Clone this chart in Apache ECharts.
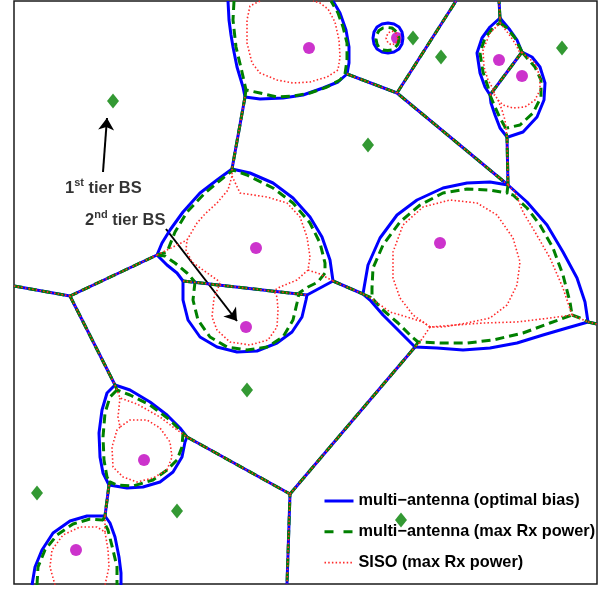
<!DOCTYPE html>
<html>
<head>
<meta charset="utf-8">
<script src="https://cdn.jsdelivr.net/npm/echarts@6/dist/echarts.min.js"></script>
<style>
  html, body { margin: 0; padding: 0; background: #fff; }
  #chart { width: 613px; height: 589px; }
</style>
</head>
<body>
<div id="chart"></div>
<script>
// Base station locations (map units)
const macroBS = [[113,101],[413,38],[441,57],[368,145],[562,48],[247,390],[37,493],[177,511],[401,520]];
const smallBS = [[309,48],[397,38],[499,60],[522,76],[440,243],[256,248],[246,327],[144,460],[76,550]];

// Macro-macro Voronoi edges: identical for every association rule
const sharedEdges = [
  [[245,97],[232,169]],
  [[347,74],[397,93],[508,185]],
  [[397,93],[456,1]],
  [[508,185],[507,137]],
  [[500,18],[499,1]],
  [[522,52],[490,95]],
  [[14,286],[70,296],[157,255]],
  [[70,296],[115,385]],
  [[187,437],[290,494],[287,584]],
  [[290,494],[415,347]],
  [[333,281],[363,294]],
  [[183,281],[307,295]],
  [[109,485],[105,516]],
  [[588,322],[597,324]]
];

// Small-cell boundaries, multi-antenna with optimal bias
const optimalBiasCells = [
  [[228,1],[229,20],[231,35],[233,47],[237,67],[243,87],[245,97],[260,99],[283,98],[303,95],[323,88],[338,82],[347,74],[349,63],[349,47],[346,30],[340,13],[333,1]],
  [[403,38],[402,44],[399,49],[394,52],[388,53],[382,52],[377,49],[374,44],[373,38],[374,32],[377,27],[382,24],[388,23],[394,24],[399,27],[402,32],[403,38]],
  [[500,18],[490,27],[482,38],[477,53],[480,73],[485,87],[490,95]],
  [[500,18],[510,30],[517,40],[522,52]],
  [[522,52],[532,57],[540,67],[545,83],[544,100],[537,117],[523,132],[508,137]],
  [[490,95],[491,103],[495,115],[500,128],[507,137]],
  [[157,255],[162,243],[170,230],[183,212],[200,193],[217,180],[232,169],[250,173],[273,183],[293,198],[310,217],[322,237],[330,260],[333,281]],
  [[157,255],[167,265],[177,273],[183,281]],
  [[307,295],[333,281]],
  [[183,281],[183,300],[188,320],[200,337],[217,347],[237,352],[257,351],[277,343],[292,332],[302,317],[306,300],[307,295]],
  [[508,185],[490,182],[467,183],[443,188],[417,200],[397,215],[380,238],[368,265],[364,288],[363,294],[370,300],[383,315],[400,332],[415,347],[437,348],[463,350],[490,348],[517,343],[543,335],[567,328],[588,322],[585,302],[577,278],[563,252],[547,225],[527,202],[508,185]],
  [[115,385],[130,390],[150,402],[167,415],[180,428],[187,437],[185,442],[182,457],[173,472],[160,482],[143,487],[127,488],[109,485],[103,473],[100,457],[99,433],[102,410],[107,393],[115,385]],
  [[32,585],[35,567],[42,550],[53,533],[70,521],[87,516],[105,516],[110,523],[115,537],[119,557],[121,573],[121,585]]
];

// Small-cell boundaries, multi-antenna with max received power
const maxRxCells = [
  [[234,1],[233,20],[236,47],[242,72],[246,90],[260,93],[277,97],[293,96],[310,93],[327,87],[340,80],[345,74],[347,60],[347,43],[343,27],[338,13],[331,1]],
  [[246,90],[245,97]],
  [[399,39],[398,44],[395,47.5],[392,50],[387.5,50.5],[383,50],[379,47.5],[377,44],[376,39],[377,34],[379,30.5],[383,28],[387.5,27.5],[392,28],[395,30.5],[398,34],[399,39]],
  [[500,18],[500,23],[493,28],[485,38],[480,53],[483,72],[488,87],[490,95]],
  [[500,23],[507,28],[515,38],[521,50],[522,52]],
  [[522,52],[527,58],[535,67],[541,80],[541,97],[533,113],[520,125],[507,128]],
  [[490,95],[495,107],[500,118],[505,127],[507,128],[507,137]],
  [[157,255],[167,252],[175,232],[187,212],[205,193],[223,178],[233,170],[247,175],[273,188],[293,203],[310,223],[320,243],[325,263],[325,273],[318,282],[308,287],[299,293]],
  [[157,255],[165,256],[175,263],[187,273],[195,282]],
  [[195,282],[193,300],[198,320],[210,337],[227,347],[247,350],[267,347],[283,337],[293,320],[297,303],[299,293]],
  [[508,185],[507,193],[490,190],[467,189],[443,193],[420,205],[400,222],[383,245],[373,268],[372,288],[372,298],[383,310],[398,323],[412,337],[418,342],[440,343],[467,343],[493,340],[523,333],[550,323],[572,315],[570,302],[563,275],[553,248],[540,225],[527,208],[513,195],[507,193]],
  [[363,294],[372,298]],
  [[418,342],[415,347]],
  [[572,315],[580,318],[588,322]],
  [[115,385],[117,390],[130,395],[150,405],[170,420],[183,433],[187,437]],
  [[183,433],[182,447],[177,460],[167,470],[153,480],[133,486],[117,485],[110,482],[109,485]],
  [[117,390],[110,397],[105,413],[103,437],[104,460],[107,477],[110,482]],
  [[105,516],[103,520]],
  [[37,585],[38,567],[45,550],[57,535],[73,524],[90,519],[103,520],[108,530],[113,550],[117,567],[117,585]]
];

// Small-cell boundaries, single antenna with max received power
const sisoCells = [
  [[260,1],[250,6],[247,20],[247,43],[252,63],[260,73],[277,80],[293,83],[310,82],[327,77],[338,70],[340,57],[339,40],[335,22],[328,9],[320,3],[313,1]],
  [[398,38],[396,43],[392,45],[388,43],[386,38],[388,33],[392,31],[396,33],[398,38]],
  [[500,18],[500,23],[490,33],[483,50],[484,67],[488,80],[492,87],[495,95]],
  [[500,23],[508,33],[515,43],[520,53],[522,52]],
  [[522,52],[527,57],[535,63],[540,77],[540,90],[535,100],[525,107],[513,108],[503,105],[498,100],[495,95],[490,95]],
  [[498,100],[502,110],[505,120],[507,137]],
  [[232,169],[232,176],[228,190],[217,203],[205,214],[197,223],[187,240],[186,250],[192,262],[203,270],[220,282]],
  [[232,176],[240,193],[267,197],[287,203],[300,217],[307,237],[310,257],[308,270],[297,280],[280,287],[275,290]],
  [[308,270],[320,274],[333,281]],
  [[157,255],[173,247],[187,240]],
  [[220,283],[214,298],[212,317],[217,330],[230,342],[250,345],[268,340],[277,327],[278,310],[277,297],[274,291]],
  [[430,327],[413,315],[400,298],[393,278],[393,252],[403,225],[423,207],[450,200],[477,203],[497,215],[513,238],[520,262],[517,285],[507,305],[490,318],[467,323],[443,327],[430,327]],
  [[363,294],[372,299],[390,312],[407,317],[423,322],[430,327],[483,323],[517,322],[550,318],[572,315],[588,322]],
  [[430,327],[420,342],[415,347]],
  [[572,315],[563,288],[550,258],[535,232],[523,212],[515,192],[508,185]],
  [[115,385],[117,390],[120,398],[137,404],[160,417],[173,427],[187,437]],
  [[120,398],[118,417],[120,427]],
  [[120,427],[117,430],[112,447],[113,467],[123,477],[137,482],[153,478],[167,470],[172,457],[170,442],[160,428],[147,420],[130,420],[120,427]],
  [[105,516],[105,532]],
  [[55,585],[50,567],[52,550],[63,535],[80,527],[97,527],[105,532],[108,550],[109,567],[105,585]]
];

// Annotation arrows and labels
const annotationArrows = [
  [[103,172],[107,118]],
  [[166,229],[237,321]]
];
const annotationLabels = [
  [65, 187, '1', 'st', ' tier BS'],
  [85, 219, '2', 'nd', ' tier BS']
];

const seriesNames = [
  'multi\u2212antenna (optimal bias)',
  'multi\u2212antenna (max Rx power)',
  'SISO (max Rx power)'
];

const styles = [
  { color: '#0000ff', width: 3, type: 'solid' },
  { color: '#008000', width: 3, type: [9, 5] },
  { color: '#ff2a2a', width: 1.6, type: [1.5, 2.2] }
];
const legendDash = ['solid', [9, 10], [1.5, 2.2]];

const groups = [
  sharedEdges.concat(optimalBiasCells),
  sharedEdges.concat(maxRxCells),
  sharedEdges.concat(sisoCells)
];

const series = [];
groups.forEach(function (lines, gi) {
  lines.forEach(function (pts) {
    series.push({
      name: seriesNames[gi],
      type: 'line',
      data: pts,
      symbol: 'none',
      showSymbol: false,
      silent: true,
      animation: false,
      clip: true,
      lineStyle: {
        color: styles[gi].color,
        width: styles[gi].width,
        type: styles[gi].type,
        cap: 'butt',
        join: 'round'
      },
      itemStyle: { color: styles[gi].color }
    });
  });
});

series.push({
  name: 'macro',
  type: 'scatter',
  data: macroBS,
  symbol: 'diamond',
  symbolSize: [12, 15],
  itemStyle: { color: '#007f00' },
  silent: true,
  animation: false
});

series.push({
  name: 'small',
  type: 'scatter',
  data: smallBS,
  symbol: 'circle',
  symbolSize: 12,
  itemStyle: { color: '#bf00bf' },
  silent: true,
  animation: false
});

series.push({
  name: 'arrows',
  type: 'lines',
  coordinateSystem: 'cartesian2d',
  data: annotationArrows.map(function (c) { return { coords: c }; }),
  symbol: ['none', 'arrow'],
  symbolSize: [0, 12],
  lineStyle: { color: '#000', width: 2, opacity: 1, curveness: 0 },
  silent: true,
  animation: false
});

series.push({
  name: 'labels',
  type: 'scatter',
  data: annotationLabels,
  symbolSize: 0,
  silent: true,
  animation: false,
  label: {
    show: true,
    position: 'right',
    distance: 0,
    formatter: function (p) {
      return '{b|' + p.value[2] + '}{s|' + p.value[3] + '}{b|' + p.value[4] + '}';
    },
    rich: {
      b: { fontSize: 16.5, fontWeight: 'bold', color: '#000', fontFamily: 'Liberation Sans', lineHeight: 20, verticalAlign: 'bottom' },
      s: { fontSize: 11, fontWeight: 'bold', color: '#000', fontFamily: 'Liberation Sans', lineHeight: 20, verticalAlign: 'top', padding: [0, 0, 6, 0] }
    }
  }
});

const chart = echarts.init(document.getElementById('chart'), null, { renderer: 'canvas' });
chart.setOption({
  backgroundColor: '#fff',
  animation: false,
  grid: {
    left: 14, top: 1, width: 583, height: 583,
    show: true, borderColor: '#1a1a1a', borderWidth: 1.5, backgroundColor: 'transparent'
  },
  xAxis: { type: 'value', min: 14, max: 597, show: false },
  yAxis: { type: 'value', min: 1, max: 584, inverse: true, show: false },
  legend: {
    data: seriesNames.map(function (n, i) {
      return {
        name: n,
        lineStyle: { width: styles[i].width, type: legendDash[i], color: styles[i].color }
      };
    }),
    orient: 'vertical',
    left: 323,
    top: 491,
    padding: 0,
    itemWidth: 29,
    itemHeight: 14,
    itemGap: 10.8,
    selectedMode: false,
    itemStyle: { opacity: 0, borderWidth: 0 },
    textStyle: { fontSize: 16.3, fontWeight: 'bold', color: '#000', fontFamily: 'Liberation Sans', lineHeight: 20 }
  },
  series: series
});
</script>
</body>
</html>
